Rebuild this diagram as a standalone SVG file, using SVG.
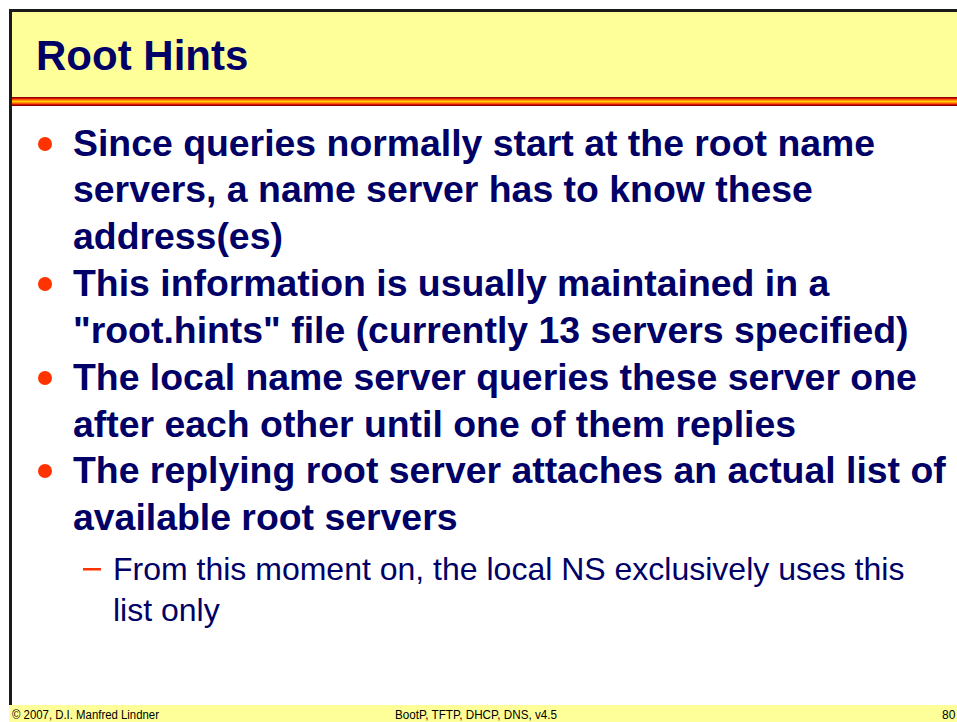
<svg xmlns="http://www.w3.org/2000/svg" width="957" height="722" viewBox="0 0 957 722">
<defs>
<linearGradient id="stripe" x1="0" y1="0" x2="0" y2="1">
<stop offset="0" stop-color="#660000"/>
<stop offset="0.14" stop-color="#CC0000"/>
<stop offset="0.3" stop-color="#FF6600"/>
<stop offset="0.5" stop-color="#FFCC00"/>
<stop offset="0.7" stop-color="#FF6600"/>
<stop offset="0.86" stop-color="#CC0000"/>
<stop offset="1" stop-color="#660000"/>
</linearGradient>
<style>
.title{font-family:"Liberation Sans",Arial,sans-serif;font-weight:bold;font-size:42px;fill:#000066}
.b1{font-family:"Liberation Sans",Arial,sans-serif;font-weight:bold;font-size:37.4px;fill:#000066}
.b2{font-family:"Liberation Sans",Arial,sans-serif;font-size:32px;fill:#000066}
.foot{font-family:"Liberation Sans",Arial,sans-serif;font-size:12px;fill:#000000}
.dot{fill:#FF3300}
</style>
</defs>
<rect x="0" y="0" width="957" height="722" fill="#FFFFFF"/>
<g id="header">
<rect x="9" y="9" width="948" height="88" fill="#FFFF99"/>
<rect x="9" y="97" width="948" height="9" fill="url(#stripe)"/>
<rect x="9" y="9" width="948" height="3" fill="#1A1A1A"/>
<text class="title" x="36" y="70">Root Hints</text>
</g>
<g id="footer">
<rect x="9" y="705" width="948" height="17" fill="#FFFF99"/>
<text class="foot" x="12" y="719" textLength="147" lengthAdjust="spacingAndGlyphs">© 2007, D.I. Manfred Lindner</text>
<text class="foot" x="395" y="719" textLength="162" lengthAdjust="spacingAndGlyphs">BootP, TFTP, DHCP, DNS, v4.5</text>
<text class="foot" x="942" y="719">80</text>
</g>
<rect x="9" y="9" width="3" height="696" fill="#1A1A1A"/>
<g id="bullets">
<circle class="dot" cx="45" cy="144" r="7"/>
<text class="b1" x="73" y="156">Since queries normally start at the root name</text>
<text class="b1" x="73" y="202">servers, a name server has to know these</text>
<text class="b1" x="73" y="249">address(es)</text>
<circle class="dot" cx="45" cy="284" r="7"/>
<text class="b1" x="73" y="296">This information is usually maintained in a</text>
<text class="b1" x="73" y="343">"root.hints" file (currently 13 servers specified)</text>
<circle class="dot" cx="45" cy="378" r="7"/>
<text class="b1" x="73" y="390">The local name server queries these server one</text>
<text class="b1" x="73" y="437">after each other until one of them replies</text>
<circle class="dot" cx="45" cy="471" r="7"/>
<text class="b1" x="73" y="483">The replying root server attaches an actual list of</text>
<text class="b1" x="73" y="530">available root servers</text>
<rect x="83" y="568" width="18" height="2.5" fill="#FF3300"/>
<text class="b2" x="113" y="580">From this moment on, the local NS exclusively uses this</text>
<text class="b2" x="113" y="621">list only</text>
</g>
</svg>
